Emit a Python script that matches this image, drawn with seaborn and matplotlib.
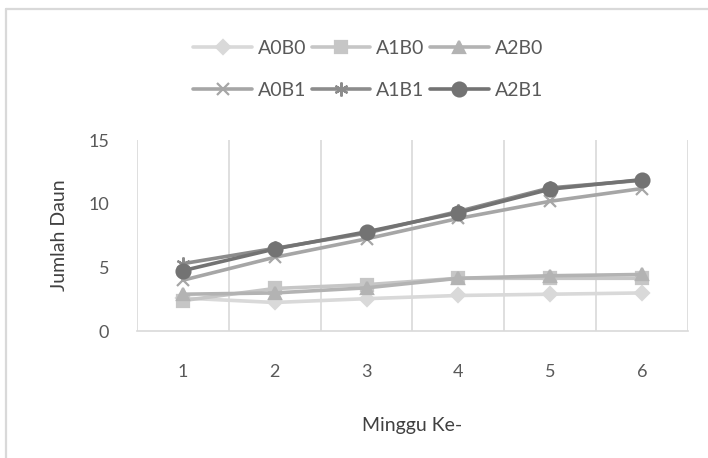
import matplotlib
matplotlib.use("Agg")
import matplotlib.pyplot as plt
from matplotlib.lines import Line2D
import seaborn as sns
import pandas as pd

# Weekly leaf counts per treatment
weeks = [1, 2, 3, 4, 5, 6]
A0B0 = [2.6, 2.25, 2.55, 2.8, 2.9, 3.0]
A1B0 = [2.4, 3.35, 3.65, 4.15, 4.15, 4.15]
A2B0 = [2.9, 3.0, 3.4, 4.15, 4.35, 4.45]
A0B1 = [4.0, 5.8, 7.25, 8.85, 10.2, 11.2]
A1B1 = [5.3, 6.5, 7.7, 9.4, 11.25, 11.85]
A2B1 = [4.75, 6.45, 7.8, 9.3, 11.15, 11.9]

series_names = ["A0B0", "A1B0", "A2B0", "A0B1", "A1B1", "A2B1"]
series_vals = [A0B0, A1B0, A2B0, A0B1, A1B1, A2B1]
colors = ["#d9d9d9", "#c6c6c6", "#b3b3b3", "#a6a6a6", "#8c8c8c", "#737373"]
markers = ["D", "s", "^", "x", (6, 2, 0), "o"]
msizes = [7, 8, 8, 9, 10, 10]

df = pd.DataFrame({
    "week": [w for _ in series_names for w in weeks],
    "value": [v for vals in series_vals for v in vals],
    "series": [n for n in series_names for _ in weeks],
})

sns.set_theme(style="white")
plt.rcParams["font.family"] = ["Lato", "DejaVu Sans"]

fig = plt.figure(figsize=(7.08, 4.58), dpi=100)
ax = fig.add_axes([0.1935, 0.277, 0.778, 0.417])

for name, col, mk, ms in zip(series_names, colors, markers, msizes):
    sub = df[df["series"] == name]
    sns.lineplot(data=sub, x="week", y="value", ax=ax, color=col, marker=mk,
                 markersize=ms, linewidth=2.6, markeredgecolor=col,
                 markeredgewidth=1.6, label=name, legend=False)

ax.set_xlim(0.5, 6.5)
ax.set_ylim(0, 15)
ax.set_yticks([0, 5, 10, 15])
ax.set_xticks(weeks)
ax.set_xticklabels([str(w) for w in weeks])

# vertical category gridlines between weeks
ax.set_xticks([0.5 + i for i in range(7)], minor=True)
ax.grid(True, which="minor", axis="x", color="#d9d9d9", linewidth=1.2)
ax.grid(False, which="major")
ax.tick_params(axis="both", which="both", length=0, labelsize=13,
               colors="#595959")
ax.tick_params(axis="x", pad=24)
ax.tick_params(axis="y", pad=20)
for side in ["top", "right", "left"]:
    ax.spines[side].set_visible(False)
ax.spines["bottom"].set_color("#d9d9d9")
ax.spines["bottom"].set_linewidth(1.2)

ax.set_xlabel("Minggu Ke-", fontsize=14, color="#404040", labelpad=26)
ax.set_ylabel("Jumlah Daun", fontsize=14, color="#404040", labelpad=15)

# legend filled row by row: three entries per row
order = [0, 3, 1, 4, 2, 5]
handles = [Line2D([0], [0], color=colors[i], marker=markers[i], markersize=msizes[i],
                  linewidth=2.6, markeredgecolor=colors[i], markeredgewidth=1.6)
           for i in order]
labels = [series_names[i] for i in order]
fig.legend(handles, labels, loc="center", ncol=3,
           bbox_to_anchor=(0.52, 0.848), frameon=False, fontsize=14,
           labelcolor="#595959", handlelength=3.0, handletextpad=0.3,
           columnspacing=0.3, labelspacing=1.3)

# chart area border
fig.add_artist(Line2D([6 / 708, 6 / 708], [0, 1 - 9 / 458], transform=fig.transFigure,
                      color="#d9d9d9", linewidth=1.6))
fig.add_artist(Line2D([6 / 708, 1], [1 - 9 / 458, 1 - 9 / 458], transform=fig.transFigure,
                      color="#d9d9d9", linewidth=1.6))

fig.savefig("out.png", dpi=100, facecolor="white")
